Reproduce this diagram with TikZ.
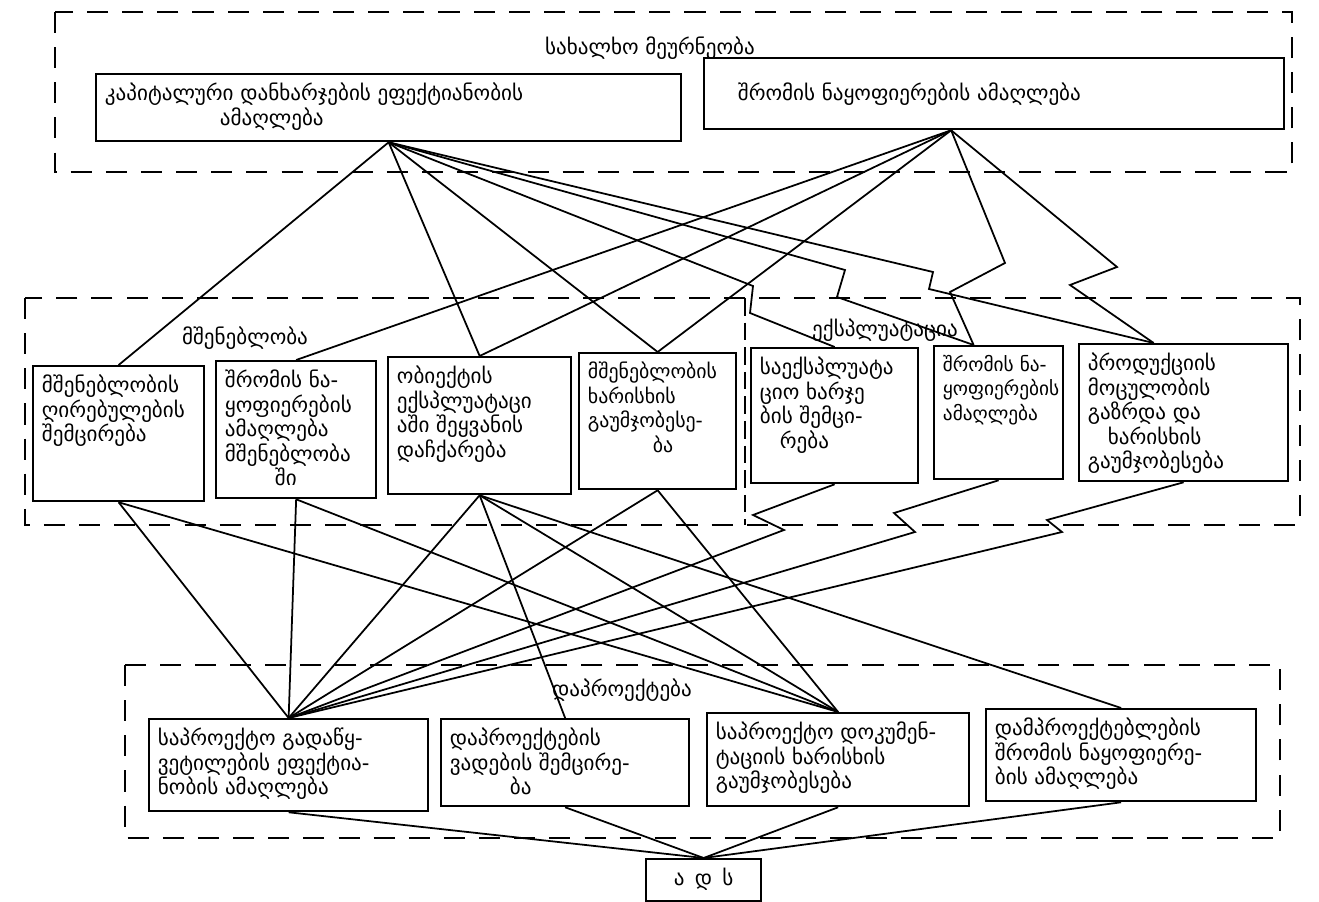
\documentclass[tikz,border=0pt]{standalone}
\usepackage{fontspec}
\newfontfamily\geo{DejaVu Sans}
\usetikzlibrary{calc}
\newdimen\pxu \pxu=0.02cm
% text block inside a box: width, height (px), text
\newcommand{\boxtxt}[3]{\parbox[t][\dimexpr#2\pxu-10pt\relax][t]{\dimexpr#1\pxu-10pt\relax}{\raggedright #3}}

\begin{document}
\begin{tikzpicture}[x=0.02cm,y=-0.02cm]
\tikzset{
  goalbox/.style={draw,line width=1.3pt,anchor=north west,inner sep=5pt,font=\geo\fontsize{12}{14}\selectfont},
  grouplabel/.style={inner sep=1pt,font=\geo\fontsize{12}{14}\selectfont},
  groupframe/.style={line width=1.5pt,dash pattern=on 12pt off 8pt},
  divider/.style={line width=1pt,dash pattern=on 10pt off 4pt},
  link/.style={line width=1pt,line join=miter}
}
\useasboundingbox (0,0) rectangle (1319,902);

% groups
\draw[groupframe] (55,12) rectangle (1292,172);
\draw[groupframe] (25,298) rectangle (1300,525);
\draw[divider] (745,298) -- (745,525);
\draw[groupframe] (125,665) rectangle (1280,838);
\node[grouplabel] (g_top) at (650,48) {სახალხო მეურნეობა};
\node[grouplabel] (g_build) at (245,338) {მშენებლობა};
\node[grouplabel] (g_use) at (885,330) {ექსპლუატაცია};
\node[grouplabel] (g_design) at (622,690) {დაპროექტება};

% national economy
\node[goalbox] (n_cap) at (95,73) {\boxtxt{585}{67}{კაპიტალური დანხარჯების ეფექტიანობის\\\hspace*{2.3cm}ამაღლება}};
\node[goalbox] (n_lab) at (703,57) {\boxtxt{580}{71}{\vspace{9pt}\hspace*{0.5cm}შრომის ნაყოფიერების ამაღლება}};

% construction
\node[goalbox] (n_A) at (32,365) {\boxtxt{171}{135}{მშენებლობის\\ღირებულების\\შემცირება}};
\node[goalbox] (n_B) at (215,360) {\boxtxt{160}{137}{შრომის ნა-\\ყოფიერების\\ამაღლება\\მშენებლობა\\\hspace*{1cm}ში}};
\node[goalbox] (n_C) at (387,356) {\boxtxt{183}{137}{ობიექტის\\ექსპლუატაცი\\აში შეყვანის\\დაჩქარება}};
\node[goalbox,font=\geo\fontsize{11.3}{14}\selectfont] (n_D) at (578,352) {\boxtxt{157}{136}{მშენებლობის\\ხარისხის\\გაუმჯობესე-\\\hspace*{1.3cm}ბა}};

% operation
\node[goalbox] (n_E) at (750,347) {\boxtxt{167}{135}{საექსპლუატა\\ციო ხარჯე\\ბის შემცი-\\\hspace*{0.4cm}რება}};
\node[goalbox,font=\geo\fontsize{11}{14}\selectfont] (n_F) at (933,345) {\boxtxt{129}{133}{შრომის ნა-\\ყოფიერების\\ამაღლება}};
\node[goalbox] (n_G) at (1078,343) {\boxtxt{209}{137}{პროდუქციის\\მოცულობის\\გაზრდა და\\\hspace*{0.4cm}ხარისხის\\გაუმჯობესება}};

% design
\node[goalbox] (n_H) at (148,718) {\boxtxt{279}{92}{საპროექტო გადაწყ-\\ვეტილების ეფექტია-\\ნობის ამაღლება}};
\node[goalbox] (n_I) at (440,718) {\boxtxt{248}{87}{დაპროექტების\\ვადების შემცირე-\\\hspace*{1.2cm}ბა}};
\node[goalbox] (n_J) at (706,712) {\boxtxt{262}{93}{საპროექტო დოკუმენ-\\ტაციის ხარისხის\\გაუმჯობესება}};
\node[goalbox] (n_K) at (985,708) {\boxtxt{270}{92}{დამპროექტებლების\\შრომის ნაყოფიერე-\\ბის ამაღლება}};

\node[goalbox] (n_ads) at (645,858) {\boxtxt{115}{42}{\centering ა\, დ\, ს}};

\coordinate (s_lab) at ([xshift=-0.86cm]n_lab.south);
\coordinate (t_F) at ([xshift=-0.5cm]n_F.north);
\coordinate (t_G) at ([xshift=-0.6cm]n_G.north);

% top fans
\draw[link] (n_cap.south) -- (n_A.north);
\draw[link] (n_cap.south) -- (n_C.north);
\draw[link] (n_cap.south) -- (n_D.north);
\draw[link] (n_cap.south) -- (753,286) -- (750,313) -- (n_E.north);
\draw[link] (n_cap.south) -- (845,270) -- (837,297) -- (t_F);
\draw[link] (n_cap.south) -- (933,272) -- (929,289) -- (t_G);
\draw[link] (s_lab) -- (n_B.north);
\draw[link] (s_lab) -- (n_C.north);
\draw[link] (s_lab) -- (n_D.north);
\draw[link] (s_lab) -- (1005,263) -- (950,292) -- (t_F);
\draw[link] (s_lab) -- (1117,267) -- (1070,285) -- (t_G);

% lower fans
\draw[link] (n_A.south) -- (n_H.north);
\draw[link] (n_A.south) -- (n_J.north);
\draw[link] (n_B.south) -- (n_H.north);
\draw[link] (n_B.south) -- (n_J.north);
\draw[link] (n_C.south) -- (n_H.north);
\draw[link] (n_C.south) -- (n_I.north);
\draw[link] (n_C.south) -- (n_J.north);
\draw[link] (n_C.south) -- (n_K.north);
\draw[link] (n_D.south) -- (n_H.north);
\draw[link] (n_D.south) -- (n_J.north);
\draw[link] (n_E.south) -- (753,515) -- (784,530) -- (n_H.north);
\draw[link] (n_F.south) -- (894,513) -- (915,532) -- (n_H.north);
\draw[link] (n_G.south) -- (1047,520) -- (1062,532) -- (n_H.north);

% to the CAD system
\draw[link] (n_H.south) -- (n_ads.north);
\draw[link] (n_I.south) -- (n_ads.north);
\draw[link] (n_J.south) -- (n_ads.north);
\draw[link] (n_K.south) -- (n_ads.north);
\end{tikzpicture}
\end{document}
